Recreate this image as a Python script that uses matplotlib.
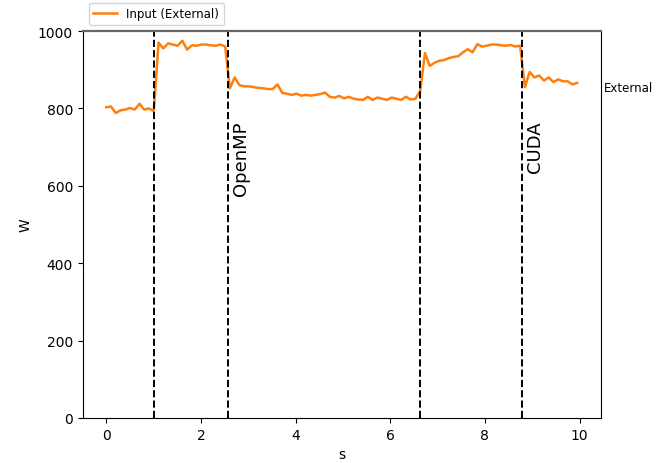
import numpy as np
import matplotlib
matplotlib.use("Agg")
import matplotlib.pyplot as plt
import matplotlib.transforms as mtransforms

# Leistungsaufnahme (W), ~0.1 s Abtastung
power_external = [
    803, 805, 788, 795, 797, 801, 797, 812, 797, 800,
    793, 970, 955, 968, 965, 962, 975, 952, 963, 962,
    965, 965, 963, 962, 965, 960, 852, 880, 860, 857,
    857, 855, 853, 852, 850, 850, 862, 840, 838, 835,
    838, 833, 835, 833, 835, 837, 841, 830, 828, 832,
    826, 830, 825, 823, 822, 830, 822, 828, 825, 822,
    828, 825, 822, 830, 823, 825, 845, 943, 910, 918,
    923, 925, 930, 933, 935, 945, 953, 945, 966, 960,
    962, 965, 965, 963, 962, 964, 960, 962, 855, 894,
    880, 885, 872, 880, 868, 875, 870, 870, 862, 866,
]
t_start = 0.0
t_end = 9.95

# inizio/fine delle sezioni
section_edges = [1.01, 2.58, 6.63, 8.79]
section_labels = ["OpenMP", "CUDA"]
section_label_x = [2.58, 8.79]

channel_name = "External"
channel_level = 855

t = np.linspace(t_start, t_end, len(power_external))

fig = plt.figure(figsize=(6.72, 4.64), dpi=100)
ax = fig.add_axes([0.123, 0.097, 0.771, 0.834])

ax.plot(t, power_external, color="#ff7f0e", lw=1.8, label="Input (External)")
for x in section_edges:
    ax.axvline(x, color="black", ls="--", lw=1.4)
for x, lab in zip(section_label_x, section_labels):
    ax.text(x + 0.08, 770, lab, rotation=90, fontsize=13, ha="left", va="top")

trans = mtransforms.blended_transform_factory(ax.transAxes, ax.transData)
ax.text(1.006, channel_level, channel_name, transform=trans, fontsize=8.5,
        ha="left", va="center")

ax.set_ylim(0, 1000)
ax.set_xlabel("s")
ax.set_ylabel("W")
ax.spines["top"].set_color("#666666")
ax.spines["top"].set_linewidth(1.6)
ax.legend(loc="lower left", bbox_to_anchor=(0, 1), fontsize=8.5)

fig.savefig("out.png", dpi=100)
